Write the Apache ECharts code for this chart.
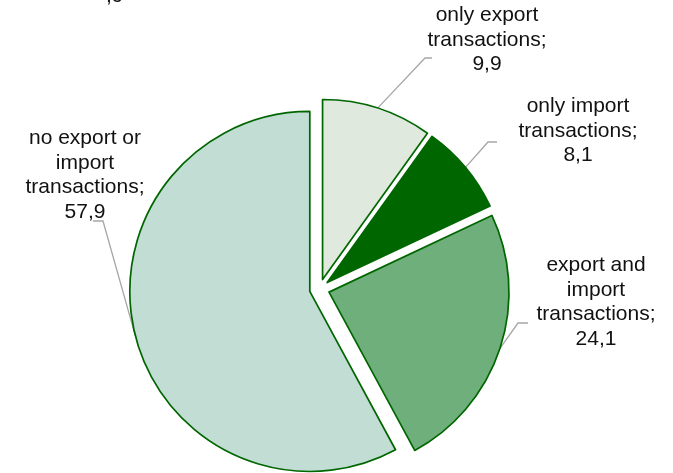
<!DOCTYPE html>
<html>
<head>
<meta charset="utf-8">
<script src="https://cdn.jsdelivr.net/npm/echarts@6/dist/echarts.min.js"></script>
<style>html,body{margin:0;padding:0;background:#fff;}#c{width:673px;height:473px;}</style>
</head>
<body>
<div id="c"></div>
<script>
const categories = ['only export transactions', 'only import transactions', 'export and import transactions', 'no export or import transactions'];
const labelTexts = ['only export\ntransactions;', 'only import\ntransactions;', 'export and\nimport\ntransactions;', 'no export or\nimport\ntransactions;'];
const values = [9.9, 8.1, 24.1, 57.9];
const colors = ['#DFE9DE', '#006600', '#6EAF7B', '#C1DDD4'];

// label layout: [centerX, centerY, elbowX, elbowY, endX, endY]
const labelPlace = [
  [487, 40, 425, 58, 432, 58],
  [578, 131, 488, 142, 497, 142],
  [596, 302, 518, 323, 528, 323],
  [85, 175, 103, 221, 93, 221]
];

const CX = 319.5, CY = 289, R = 180, EXPLODE = 10;
const total = values.reduce((a, b) => a + b, 0);
const fmt = v => String(v).replace('.', ',');

// each slice is drawn by its own pie series, shifted outward along its bisector
let cum = 0;
const series = values.map((val, k) => {
  const mid = (cum + val / 2) / total * 2 * Math.PI;
  cum += val;
  const cx = CX + EXPLODE * Math.sin(mid);
  const cy = CY - EXPLODE * Math.cos(mid);
  return {
    type: 'pie',
    silent: true,
    center: [cx, cy],
    radius: R,
    startAngle: 90,
    clockwise: true,
    avoidLabelOverlap: false,
    emphasis: { disabled: true },
    label: {
      show: true,
      position: 'outside',
      formatter: p => labelTexts[p.dataIndex] + '\n' + fmt(p.value),
      fontFamily: '"Liberation Sans", Arial, sans-serif',
      fontSize: 21,
      lineHeight: 24.5,
      color: '#111111',
      align: 'center'
    },
    labelLine: { show: true, lineStyle: { color: '#A6A6A6', width: 1.3 } },
    labelLayout: function (params) {
      const lp = labelPlace[params.dataIndex];
      const a = params.labelLinePoints ? params.labelLinePoints[0] : [lp[2], lp[3]];
      return {
        x: lp[0], y: lp[1], align: 'center', verticalAlign: 'middle',
        labelLinePoints: [a, [lp[2], lp[3]], [lp[4], lp[5]]]
      };
    },
    data: values.map((v, i) => i === k ? {
      name: categories[i], value: v,
      itemStyle: { color: colors[i], borderColor: '#006600', borderWidth: 1.7 }
    } : {
      name: categories[i], value: v,
      itemStyle: { color: 'rgba(0,0,0,0)', borderWidth: 0 },
      label: { show: false }, labelLine: { show: false }
    })
  };
});

const chart = echarts.init(document.getElementById('c'));
chart.setOption({
  animation: false,
  graphic: [{
    type: 'text', left: 106, top: -14,
    style: { text: ',9', font: '21px "Liberation Sans", Arial, sans-serif', fill: '#111111' }
  }],
  series: series
});
</script>
</body>
</html>
